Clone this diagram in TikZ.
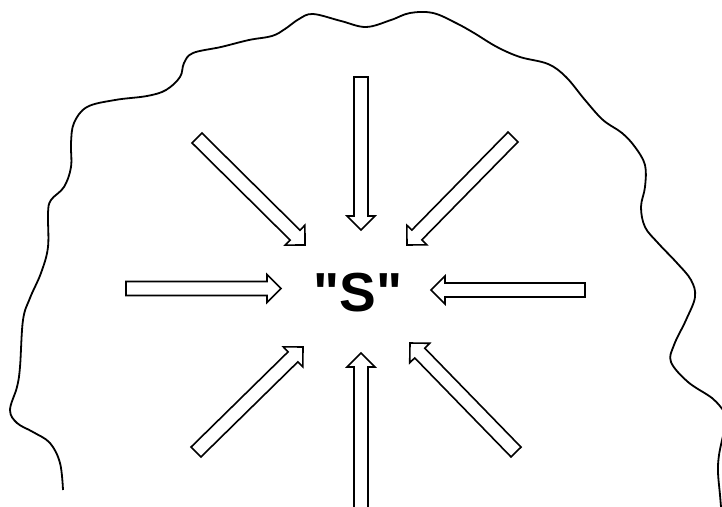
\documentclass[tikz,border=0pt]{standalone}
\usepackage{fontspec}
\setmainfont{Liberation Sans}
\newfontfamily\labelfont{Liberation Sans}[Ligatures=TeXOff]
\usetikzlibrary{calc}

\begin{document}
\begin{tikzpicture}[x=1pt, y=-1pt, outline/.style={line width=1.8pt, line join=round}, hollow/.style={draw, line width=1.6pt, fill=white}, label/.style={inner sep=0pt, font=\labelfont\fontsize{55}{60}\selectfont\bfseries}]
    \useasboundingbox (0,0) rectangle (722,506);

    % wavy boundary
    \draw[outline] plot[smooth, tension=0.6] coordinates {(63,490) (60,463) (50,443) (33,432) (17,423) (10,410) (17,387) (20,367) (23,320) (30,298) (41,273) (48,247) (48,213) (51,200) (64,187) (71,167) (71,143) (74,123) (87,107) (115,100) (147,96) (166,90) (180,77) (184,63) (193,53) (221,47) (249,40) (272,36) (285,29) (299,19) (313,14) (341,21) (366,27) (391,20) (410,13) (433,13) (456,23) (474,33) (497,47) (520,57) (548,64) (566,77) (585,100) (603,120) (622,133) (635,147) (645,165) (645,187) (641,207) (645,227) (658,243) (677,263) (691,280) (695,297) (686,320) (674,345) (671,362) (688,382) (712,398) (723,410)};
    \draw[outline] plot[smooth, tension=0.6] coordinates {(723,436) (719,455) (718,472) (720,495) (721,507)};

    \node (S) at (358,293) [label] {"S"};

    % arrow tails and tips
    \coordinate (t1) at (361,77);    \coordinate (h1) at (361,230);
    \coordinate (t2) at (513,137);   \coordinate (h2) at (407,245);
    \coordinate (t3) at (585,290);   \coordinate (h3) at (431,290);
    \coordinate (t4) at (516,452);   \coordinate (h4) at (410,343);
    \coordinate (t5) at (361,515);   \coordinate (h5) at (361,353);
    \coordinate (t6) at (196,452);   \coordinate (h6) at (303,347);
    \coordinate (t7) at (126,288.5); \coordinate (h7) at (281,288.5);
    \coordinate (t8) at (197,138);   \coordinate (h8) at (305,245);

    \foreach \i in {1,...,8} {
        \coordinate (n\i) at ($(h\i)!14pt!(t\i)$);
        \draw[hollow] ($(t\i)!7pt!90:(h\i)$) -- ($(n\i)!7pt!90:(h\i)$) -- ($(n\i)!14pt!90:(h\i)$) -- (h\i)
            -- ($(n\i)!14pt!-90:(h\i)$) -- ($(n\i)!7pt!-90:(h\i)$) -- ($(t\i)!7pt!-90:(h\i)$) -- cycle;
    }
\end{tikzpicture}
\end{document}
